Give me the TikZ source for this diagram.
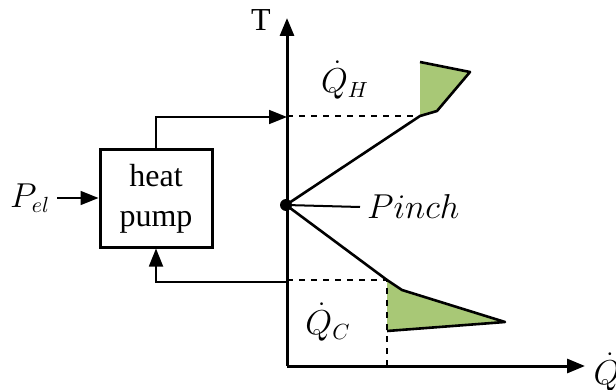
\documentclass[tikz,border=0pt]{standalone}
\usepackage{fontspec}
\setmainfont{Liberation Serif}
\usepackage{tikz}
\usetikzlibrary{arrows.meta,positioning,calc}
\definecolor{curvegreen}{RGB}{168,200,118}

\begin{document}
\begin{tikzpicture}[x=0.5pt,y=-0.5pt,
  >={Triangle[length=9pt,width=7pt]},
  lbl/.style={font=\fontsize{16}{20}\selectfont},
  axis/.style={line width=1.5pt},
  curve/.style={line width=1.3pt,line join=round},
  guide/.style={dashed,line width=0.6pt},
  flow/.style={line width=0.9pt,->},
  box/.style={draw,line width=1.5pt,minimum width=56pt,minimum height=48.5pt,align=center,lbl}]
  \useasboundingbox (0,0) rectangle (616,390);

  % Achsen
  \coordinate (O) at (287,366);
  \coordinate (Ttop) at (287,18);
  \coordinate (Qend) at (585,366);
  \draw[axis,->] (O) -- (Ttop);
  \draw[axis,->] (O) -- (Qend);
  \node[lbl] (T) at (261,20) {T};
  \node[lbl] (Qdot) at (607,372) {$\dot{Q}$};

  % Pinch
  \coordinate (pinch) at (286,205);
  \node[lbl,anchor=west] (pinchlbl) at (360,207) {$Pinch$};
  \draw[line width=1pt] (pinch) -- (pinchlbl.west);

  % warme Verbundkurve
  \coordinate (H1) at (420,116);
  \coordinate (H2) at (437,111);
  \coordinate (H3) at (470,72);
  \coordinate (H4) at (420,62);
  \fill[curvegreen] (H1) -- (H2) -- (H3) -- (H4) -- cycle;
  \draw[curve] (pinch) -- (H1) -- (H2) -- (H3) -- (H4);
  \draw[guide] (287,116) -- (H1);
  \node[lbl] (QH) at (345,80) {$\dot{Q}_H$};

  % kalte Verbundkurve
  \coordinate (C1) at (387,280);
  \coordinate (C2) at (402,290);
  \coordinate (C3) at (505,322);
  \coordinate (C4) at (387,331);
  \fill[curvegreen] (C1) -- (C2) -- (C3) -- (C4) -- cycle;
  \draw[curve] (pinch) -- (C1) -- (C2) -- (C3) -- (C4);
  \draw[guide] (287,280) -- (C1) -- (C1 |- O);
  \node[lbl] (QC) at (328,322) {$\dot{Q}_C$};

  \fill (pinch) circle (6);

  % Waermepumpe
  \node[box] (hp) at (156,198.5) {heat\\pump};
  \node[lbl] (pel) at (30,198) {$P_{el}$};
  \coordinate (QHin) at (287,117);
  \coordinate (QCout) at (287,282);
  \draw[flow] (pel.east) -- (pel.east -| hp.west);
  \draw[flow] (hp.north) |- (QHin);
  \draw[flow] (QCout) -| (hp.south);
\end{tikzpicture}
\end{document}
